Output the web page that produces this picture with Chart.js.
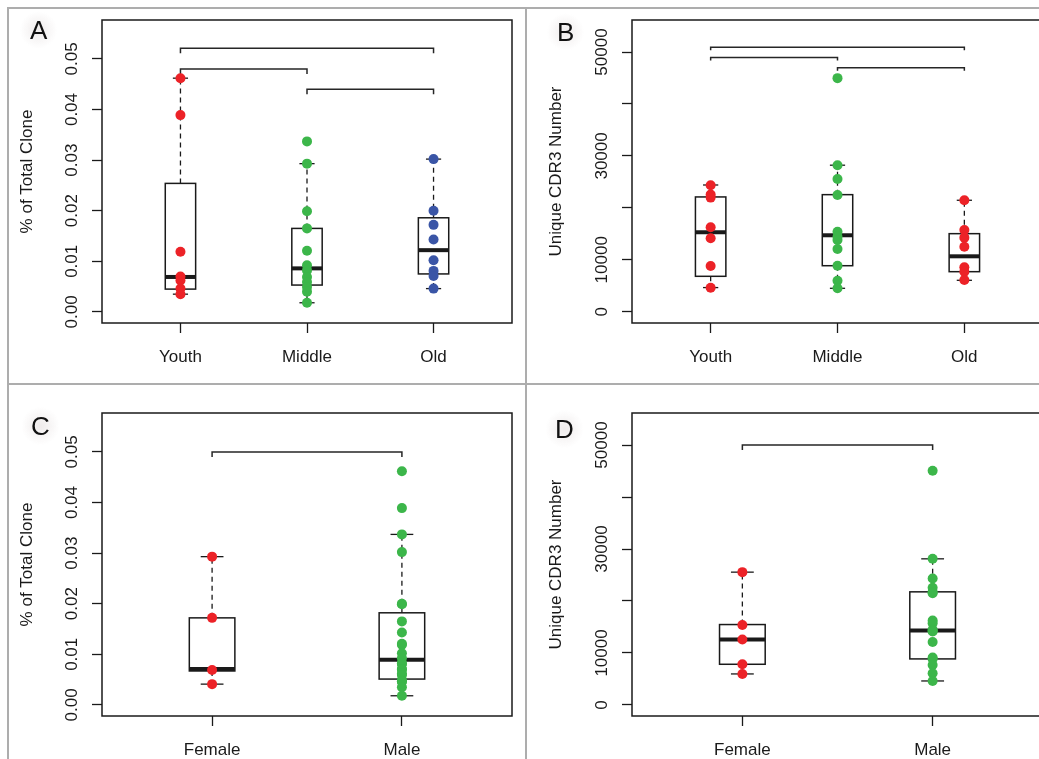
<!DOCTYPE html>
<html>
<head>
<meta charset="utf-8">
<script src="https://cdn.jsdelivr.net/npm/chart.js@4.4.1/dist/chart.umd.min.js"></script>
<style>
  body { margin: 0; background: #fff; width: 1039px; height: 759px; overflow: hidden; position: relative;
         font-family: 'Liberation Sans', Arial, sans-serif; }
  .cell { position: absolute; overflow: hidden; }
  .rule { position: absolute; background: #adadad; z-index: 2; }
  .tag { position: absolute; font-size: 26px; line-height: 26px; color: #111; padding: 6px 10px; z-index: 3;
         background: radial-gradient(circle, rgba(228,222,222,0.6) 0%, rgba(255,255,255,0) 70%); }
</style>
</head>
<body>
<div class="cell" style="left:8px;top:9px;width:517px;height:375px"><canvas id="chartA" width="517" height="375"></canvas></div>
<div class="cell" style="left:527px;top:9px;width:512px;height:375px"><canvas id="chartB" width="530" height="375"></canvas></div>
<div class="cell" style="left:8px;top:386px;width:517px;height:373px"><canvas id="chartC" width="517" height="373"></canvas></div>
<div class="cell" style="left:527px;top:386px;width:512px;height:373px"><canvas id="chartD" width="530" height="373"></canvas></div>

<div class="rule" style="left:7px;top:7px;width:1032px;height:2px"></div>
<div class="rule" style="left:7px;top:7px;width:2px;height:752px"></div>
<div class="rule" style="left:525px;top:7px;width:2px;height:752px"></div>
<div class="rule" style="left:7px;top:383px;width:1032px;height:2px"></div>

<div class="tag" style="left:20px;top:11px">A</div>
<div class="tag" style="left:547px;top:13px">B</div>
<div class="tag" style="left:21px;top:407px">C</div>
<div class="tag" style="left:545px;top:410px">D</div>

<script>
// groups
const ageGroups = ['Youth', 'Middle', 'Old'];
const sexGroups = ['Female', 'Male'];

// y ticks
const cloneTicks = [0, 0.01, 0.02, 0.03, 0.04, 0.05];
const cloneTickLabels = ['0.00', '0.01', '0.02', '0.03', '0.04', '0.05'];
const cdr3Ticks = [0, 10000, 20000, 30000, 40000, 50000];
const cdr3TickLabels = ['0', '10000', '', '30000', '', '50000'];

// A: % of total clone by age
const cloneYouth = [0.0462, 0.0389, 0.0119, 0.0070, 0.0062, 0.0046, 0.0035];
const cloneMiddle = [0.0337, 0.0293, 0.0199, 0.0165, 0.0121, 0.0092, 0.0082, 0.0069, 0.0059, 0.0049, 0.0040, 0.0018];
const cloneOld = [0.0302, 0.0200, 0.0172, 0.0143, 0.0102, 0.0081, 0.0071, 0.0046];
// box stats: [lower whisker, q1, median, q3, upper whisker]
const cloneAgeBoxes = [
  [0.0035, 0.0045, 0.0069, 0.0254, 0.0462],
  [0.0018, 0.0053, 0.0086, 0.0165, 0.0293],
  [0.0046, 0.0075, 0.0122, 0.0186, 0.0302]
];
// brackets: [from group, to group, height]
const cloneAgeBrackets = [[1, 3, 0.0521], [1, 2, 0.0480], [2, 3, 0.0440]];

// B: unique CDR3 number by age
const cdr3Youth = [24350, 22550, 21970, 16260, 14140, 8805, 4624];
const cdr3Middle = [44970, 28210, 25570, 22480, 15410, 14450, 13820, 12080, 8860, 5970, 4510];
const cdr3Old = [21460, 15740, 14260, 12520, 8550, 7700, 6100];
const cdr3AgeBoxes = [
  [4650, 6820, 15300, 22100, 24400],
  [4510, 8860, 14720, 22540, 28210],
  [6050, 7710, 10670, 15030, 21460]
];
const cdr3AgeBrackets = [[1, 3, 50940], [1, 2, 48940], [2, 3, 46960]];

// C: % of total clone by sex
const cloneFemale = [0.0293, 0.0172, 0.0069, 0.0041];
const cloneMale = [0.0462, 0.0389, 0.0337, 0.0302, 0.0200, 0.0199, 0.0165, 0.0143, 0.0121, 0.0119, 0.0102, 0.0092,
                   0.0082, 0.0081, 0.0071, 0.0070, 0.0062, 0.0059, 0.0049, 0.0046, 0.0046, 0.0035, 0.0018];
const cloneSexBoxes = [
  [0.0041, 0.0067, 0.0071, 0.0172, 0.0293],
  [0.0018, 0.0051, 0.0089, 0.0182, 0.0337]
];
const cloneSexBrackets = [[1, 2, 0.0500]];

// D: unique CDR3 number by sex
const cdr3Female = [25550, 15400, 12580, 7830, 5970];
const cdr3Male = [45060, 28110, 24320, 22550, 21700, 21510, 16230, 15740, 14450, 14260, 14140, 12130,
                  9110, 8860, 7700, 6100, 4620];
const cdr3SexBoxes = [
  [5970, 7830, 12580, 15470, 25550],
  [4620, 8860, 14310, 21760, 28110]
];
const cdr3SexBrackets = [[1, 2, 50010]];

const RED = '#ec2227';
const GREEN = '#3cb64a';
const BLUE = '#3a55a6';
const INK = '#1a1a1a';
const FONT = "'Liberation Sans', Arial, sans-serif";

Chart.defaults.font.family = FONT;

function strokeLine(ctx, x1, y1, x2, y2) {
  ctx.beginPath();
  ctx.moveTo(x1, y1);
  ctx.lineTo(x2, y2);
  ctx.stroke();
}

// draws boxes, whiskers, brackets and the frame (under the points),
// then the rotated y tick labels like R does
const boxPlugin = {
  id: 'boxes',
  beforeDatasetsDraw(chart, args, opts) {
    const {ctx, chartArea: a} = chart;
    const x = chart.scales.x, y = chart.scales.y;
    ctx.save();
    ctx.strokeStyle = INK;
    opts.stats.forEach((s, i) => {
      const cx = x.getPixelForValue(i + 1);
      const hw = x.getPixelForValue(i + 1 + 0.12) - cx;
      const [lo, q1, med, q3, hi] = s.map(v => y.getPixelForValue(v));
      ctx.lineWidth = 1.3;
      ctx.setLineDash([5, 4]);
      strokeLine(ctx, cx, q3, cx, hi);
      strokeLine(ctx, cx, q1, cx, lo);
      ctx.setLineDash([]);
      strokeLine(ctx, cx - hw / 2, hi, cx + hw / 2, hi);
      strokeLine(ctx, cx - hw / 2, lo, cx + hw / 2, lo);
      ctx.lineWidth = 1.5;
      ctx.strokeRect(cx - hw, q3, hw * 2, q1 - q3);
      ctx.lineWidth = 4;
      strokeLine(ctx, cx - hw, med, cx + hw, med);
    });
    // significance brackets
    ctx.lineWidth = 1.5;
    ctx.strokeStyle = '#262626';
    opts.brackets.forEach(b => {
      const x1 = x.getPixelForValue(b[0]);
      const x2 = x.getPixelForValue(b[1]);
      const by = y.getPixelForValue(b[2]);
      ctx.beginPath();
      ctx.moveTo(x1, by + opts.drop);
      ctx.lineTo(x1, by);
      ctx.lineTo(x2, by);
      ctx.lineTo(x2, by + opts.drop);
      ctx.stroke();
    });
    // plot frame
    ctx.strokeStyle = INK;
    ctx.lineWidth = 1.5;
    ctx.strokeRect(a.left, a.top, a.right - a.left, a.bottom - a.top);
    ctx.restore();
  },
  afterDraw(chart, args, opts) {
    const {ctx, chartArea: a} = chart;
    const y = chart.scales.y;
    ctx.save();
    ctx.fillStyle = INK;
    ctx.font = '17px ' + FONT;
    ctx.textAlign = 'center';
    ctx.textBaseline = 'middle';
    opts.ticks.forEach((v, i) => {
      ctx.save();
      ctx.translate(a.left - 30, y.getPixelForValue(v));
      ctx.rotate(-Math.PI / 2);
      ctx.fillText(opts.tickLabels[i], 0, 0);
      ctx.restore();
    });
    ctx.restore();
  }
};

function makePanel(canvasId, cfg) {
  const ctx = document.getElementById(canvasId).getContext('2d');
  const datasets = cfg.points.map((vals, i) => ({
    data: vals.map(v => ({x: i + 1, y: v})),
    backgroundColor: cfg.colors[i],
    pointRadius: 5,
    pointHoverRadius: 5,
    pointBorderWidth: 0
  }));
  const grid = {drawOnChartArea: false, tickLength: 10, tickColor: INK, tickWidth: 1.3};
  return new Chart(ctx, {
    type: 'scatter',
    data: {datasets},
    options: {
      responsive: false,
      animation: false,
      events: [],
      layout: {padding: cfg.pad},
      plugins: {
        legend: {display: false},
        tooltip: {enabled: false},
        boxes: {stats: cfg.boxes, brackets: cfg.brackets, drop: cfg.drop,
                ticks: cfg.ticks, tickLabels: cfg.tickLabels}
      },
      scales: {
        x: {
          type: 'linear',
          min: 0.5 - (cfg.groups.length * 0.04),
          max: cfg.groups.length + 0.5 + (cfg.groups.length * 0.04),
          afterBuildTicks: s => { s.ticks = cfg.groups.map((g, i) => ({value: i + 1})); },
          afterFit: s => { s.height = cfg.xHeight; },
          ticks: {callback: v => cfg.groups[v - 1], autoSkip: false, maxRotation: 0,
                  color: INK, font: {size: 17}, padding: 14},
          grid: grid,
          border: {display: false}
        },
        y: {
          min: cfg.yMin,
          max: cfg.yMax,
          afterBuildTicks: s => { s.ticks = cfg.ticks.map(v => ({value: v})); },
          afterFit: s => { s.width = cfg.yWidth; },
          ticks: {display: false},
          grid: grid,
          border: {display: false},
          title: {display: true, text: cfg.title, color: INK, font: {size: 17},
                  padding: {top: cfg.titlePad, bottom: 0}}
        }
      }
    },
    plugins: [boxPlugin]
  });
}

makePanel('chartA', {
  groups: ageGroups, points: [cloneYouth, cloneMiddle, cloneOld], colors: [RED, GREEN, BLUE],
  boxes: cloneAgeBoxes, brackets: cloneAgeBrackets, drop: 5,
  ticks: cloneTicks, tickLabels: cloneTickLabels, yMin: -0.0022, yMax: 0.0577,
  title: '% of Total Clone', titlePad: 9, yWidth: 94, xHeight: 61,
  pad: {top: 11, right: 13, left: 0, bottom: 0}
});

makePanel('chartB', {
  groups: ageGroups, points: [cdr3Youth, cdr3Middle, cdr3Old], colors: [RED, GREEN, RED],
  boxes: cdr3AgeBoxes, brackets: cdr3AgeBrackets, drop: 3,
  ticks: cdr3Ticks, tickLabels: cdr3TickLabels, yMin: -2170, yMax: 56165,
  title: 'Unique CDR3 Number', titlePad: 19, yWidth: 105, xHeight: 61,
  pad: {top: 11, right: 14, left: 0, bottom: 0}
});

makePanel('chartC', {
  groups: sexGroups, points: [cloneFemale, cloneMale], colors: [RED, GREEN],
  boxes: cloneSexBoxes, brackets: cloneSexBrackets, drop: 5,
  ticks: cloneTicks, tickLabels: cloneTickLabels, yMin: -0.0022, yMax: 0.0577,
  title: '% of Total Clone', titlePad: 9, yWidth: 94, xHeight: 43,
  pad: {top: 27, right: 13, left: 0, bottom: 0}
});

makePanel('chartD', {
  groups: sexGroups, points: [cdr3Female, cdr3Male], colors: [RED, GREEN],
  boxes: cdr3SexBoxes, brackets: cdr3SexBrackets, drop: 5,
  ticks: cdr3Ticks, tickLabels: cdr3TickLabels, yMin: -2120, yMax: 56160,
  title: 'Unique CDR3 Number', titlePad: 19, yWidth: 105, xHeight: 43,
  pad: {top: 27, right: 14, left: 0, bottom: 0}
});
</script>
</body>
</html>
